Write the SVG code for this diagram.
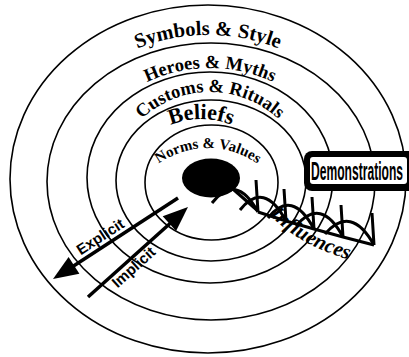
<svg xmlns="http://www.w3.org/2000/svg" width="409" height="357" viewBox="0 0 409 357">
<style>
.ring{fill:none;stroke:#000;stroke-width:1.6}
.lbl{font-family:"Liberation Serif",serif;font-weight:bold;fill:#000}
.arr{font-family:"Liberation Sans",sans-serif;font-weight:bold;font-size:15px;fill:#000}
.ln{stroke:#000;stroke-width:3.5;fill:none;stroke-linecap:butt}
.inf{stroke:#000;stroke-width:3;fill:none;stroke-linejoin:miter}
</style>
<defs>
<path id="pSym" d="M 40 181 A 168 146 0 0 1 376 181"/>
<path id="pHer" d="M 75 190 A 135 122 0 0 1 345 190"/>
<path id="pCus" d="M 110 192 A 100 100 0 0 1 310 192"/>
<path id="pBel" d="M 131 179 A 70 60 0 0 1 271 179"/>
<path id="pNor" d="M 123 233 A 85 85 0 0 1 293 233"/>
<path id="pInf" d="M 268 213 Q 300 248 362 263"/>
</defs>
<rect width="409" height="357" fill="#fff"/>
<g id="ring-symbols"><ellipse class="ring" cx="208" cy="179" rx="198" ry="174"/>
<text class="lbl" font-size="20.5"><textPath href="#pSym" startOffset="50%" text-anchor="middle">Symbols &amp; Style</textPath></text></g>
<g id="ring-heroes"><ellipse class="ring" cx="211" cy="181.5" rx="164" ry="138.5"/>
<text class="lbl" font-size="18.5"><textPath href="#pHer" startOffset="50%" text-anchor="middle">Heroes &amp; Myths</textPath></text></g>
<g id="ring-customs"><ellipse class="ring" cx="210" cy="177.5" rx="123" ry="105.5"/>
<text class="lbl" font-size="18.5"><textPath href="#pCus" startOffset="50%" text-anchor="middle">Customs &amp; Rituals</textPath></text></g>
<g id="ring-beliefs"><ellipse class="ring" cx="211" cy="180.5" rx="95" ry="80.5"/>
<text class="lbl" font-size="22"><textPath href="#pBel" startOffset="50%" text-anchor="middle">Beliefs</textPath></text></g>
<g id="ring-norms"><ellipse class="ring" cx="211.5" cy="182.5" rx="66.5" ry="57.5"/>
<text class="lbl" font-size="15"><textPath href="#pNor" startOffset="50%" text-anchor="middle">Norms &amp; Values</textPath></text></g>
<g id="core"><ellipse cx="211" cy="178" rx="29" ry="19.5" fill="#000"/></g>
<g id="demonstrations">
<rect x="304" y="151" width="115" height="40" rx="8" fill="#000"/>
<rect x="310" y="157" width="97" height="27" rx="3" fill="#fff"/>
<text x="311" y="180" font-family="'Liberation Sans',sans-serif" font-weight="bold" font-size="25" textLength="92" lengthAdjust="spacingAndGlyphs">Demonstrations</text>
</g>
<g id="connectors">
<g id="explicit">
<line class="ln" x1="178" y1="198" x2="72" y2="267"/>
<polygon points="53,279 68.6,257 79.4,273.8" fill="#000"/>
<text class="arr" transform="translate(103,241) rotate(-33)" text-anchor="middle">Explicit</text>
</g>
<g id="implicit">
<line class="ln" x1="88" y1="297" x2="175" y2="219"/>
<polygon points="188,207 162.7,216.3 176.1,231.1" fill="#000"/>
<text class="arr" transform="translate(137,271) rotate(-42)" text-anchor="middle">Implicit</text>
</g>
<g id="influences">
<line class="inf" stroke-width="4" x1="234" y1="190" x2="258" y2="211"/>
<path class="inf" d="M 258 212 L 256 180 M 212 203 Q 236 172 258 212 M 286 221 L 284 189 M 240 210 Q 264 180 286 221 M 314 229 L 312 197 M 268 218 Q 292 188 314 229 M 343 237 L 341 205 M 296 226 Q 321 196 343 237 M 374 245 L 372 213 M 325 234 Q 351 204 374 245"/>
<path class="inf" d="M 258 212 L 286 221 L 314 229 L 343 237 L 374 245" stroke-width="2"/>
<text class="lbl" font-size="21" font-style="italic"><textPath href="#pInf" startOffset="2">Influences</textPath></text>
</g>
</g>
</svg>
